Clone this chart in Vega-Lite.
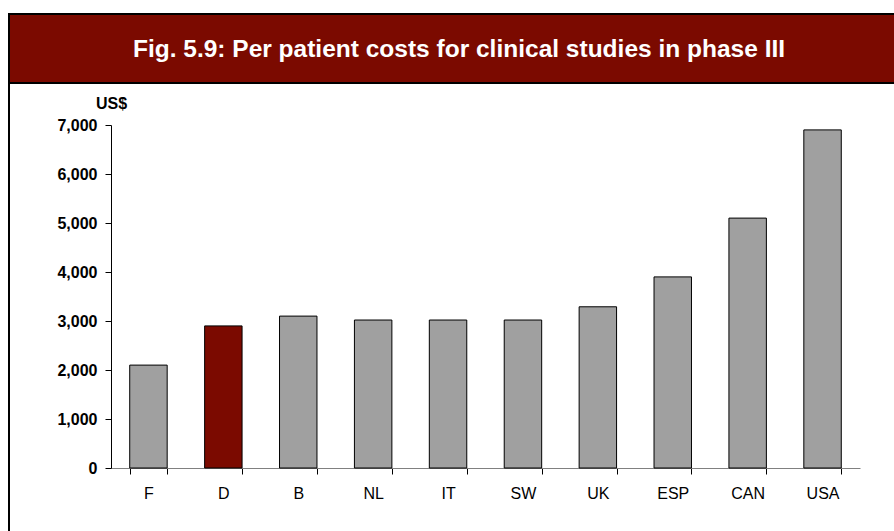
{
  "$schema": "https://vega.github.io/schema/vega-lite/v6.json",
  "padding": {"left": 8, "top": 13, "right": 0, "bottom": 0},
  "background": "white",
  "spacing": 0,
  "bounds": "flush",
  "config": {"font": "Liberation Sans"},
  "datasets": {
    "costs": [
      {"country": "F", "cost": 2100},
      {"country": "D", "cost": 2900},
      {"country": "B", "cost": 3100},
      {"country": "NL", "cost": 3020},
      {"country": "IT", "cost": 3020},
      {"country": "SW", "cost": 3020},
      {"country": "UK", "cost": 3290},
      {"country": "ESP", "cost": 3900},
      {"country": "CAN", "cost": 5100},
      {"country": "USA", "cost": 6900}
    ],
    "heading": [{"t": "Fig. 5.9: Per patient costs for clinical studies in phase III"}]
  },
  "vconcat": [
    {
      "width": 900,
      "height": 69,
      "view": {"fill": "#7b0a00", "stroke": "black", "strokeWidth": 2},
      "data": {"name": "heading"},
      "mark": {"type": "text", "font": "Liberation Sans", "fontWeight": "bold", "fontSize": 24.5, "color": "white", "align": "center", "baseline": "middle", "dy": 1},
      "encoding": {"text": {"field": "t", "type": "nominal"}}
    },
    {
      "width": 900,
      "height": 470,
      "view": {"fill": "white", "stroke": "black", "strokeWidth": 2},
      "data": {"name": "costs"},
      "mark": {"type": "bar", "stroke": "black", "strokeWidth": 1},
      "encoding": {
        "x": {
          "field": "country",
          "type": "nominal",
          "sort": null,
          "scale": {"range": [102, 851], "paddingInner": 0.5, "paddingOuter": 0.25},
          "axis": {
            "title": null,
            "offset": -85,
            "labelAngle": 0,
            "labelFont": "Liberation Sans",
            "labelFontSize": 16,
            "labelColor": "black",
            "labelPadding": 11,
            "tickBand": "extent",
            "tickSize": 6,
            "tickColor": "black",
            "domainColor": "#808080",
            "grid": false
          }
        },
        "y": {
          "field": "cost",
          "type": "quantitative",
          "scale": {"domain": [0, 7000], "range": [385, 42], "nice": false},
          "axis": {
            "title": "US$",
            "titleAngle": 0,
            "titleX": 0,
            "titleY": 25,
            "titleAlign": "center",
            "titleBaseline": "alphabetic",
            "titleFont": "Liberation Sans",
            "titleFontSize": 16,
            "titleFontWeight": "bold",
            "titleColor": "black",
            "offset": -102,
            "values": [0, 1000, 2000, 3000, 4000, 5000, 6000, 7000],
            "format": ",.0f",
            "labelFont": "Liberation Sans",
            "labelFontSize": 16,
            "labelFontWeight": "bold",
            "labelColor": "black",
            "labelPadding": 8,
            "tickSize": 6,
            "tickColor": "black",
            "domainColor": "black",
            "grid": false
          }
        },
        "color": {
          "condition": {"test": "datum.country === 'D'", "value": "#7b0a00"},
          "value": "#a0a0a0"
        }
      }
    }
  ]
}
